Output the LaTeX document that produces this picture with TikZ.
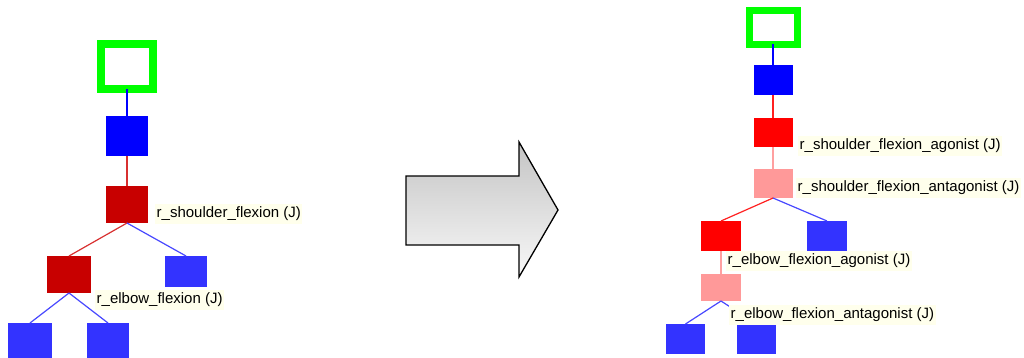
\documentclass[tikz,border=0pt]{standalone}
\usepackage{fontspec}
\setmainfont{Liberation Sans}
\definecolor{gbox}{HTML}{00FF00}
\definecolor{bdark}{HTML}{0000FF}
\definecolor{bleaf}{HTML}{3333FF}
\definecolor{rdark}{HTML}{C80000}
\definecolor{rbright}{HTML}{FF0000}
\definecolor{pinkb}{HTML}{FF9999}
\definecolor{labbg}{HTML}{FFFFEC}
\definecolor{lnblue}{HTML}{4848FF}
\definecolor{lnreddark}{HTML}{D83030}
\definecolor{lnred}{HTML}{FF2020}
\definecolor{lnpink}{HTML}{FFA0A0}
\definecolor{arrtop}{HTML}{C4C4C4}
\definecolor{arrbot}{HTML}{F8F8F8}
\tikzset{
  box/.style={rectangle, inner sep=0pt, outer sep=0pt, draw=none},
  rootbox/.style={box, draw=gbox, fill=white},
  lab/.style={rectangle, fill=labbg, inner xsep=1.5pt, inner ysep=0pt, minimum height=20pt,
              anchor=west, font=\fontsize{15}{17}\selectfont, text=black},
  conn/.style={line width=1.2pt},
}
\begin{document}
\begin{tikzpicture}[x=1pt,y=-1pt]
\useasboundingbox (0,0) rectangle (1024,358);
% ---------- left tree ----------
\node[rootbox, line width=8pt, minimum width=52pt, minimum height=45pt] (LG) at (127,66.5) {};
\node[box, fill=bdark, minimum width=42pt, minimum height=40pt] (LB) at (127,136) {};
\node[box, fill=rdark, minimum width=42pt, minimum height=37pt] (LR) at (127,204.5) {};
\node[box, fill=rdark, minimum width=44pt, minimum height=37pt] (LR2) at (69,274.5) {};
\node[box, fill=bleaf, minimum width=42pt, minimum height=31pt] (LB2) at (186,271.5) {};
\node[box, fill=bleaf, minimum width=44pt, minimum height=40pt] (LB3) at (30,343) {};
\node[box, fill=bleaf, minimum width=42pt, minimum height=40pt] (LB4) at (108,343) {};
\draw[conn, bdark] (LG.south) -- (LB.north);
\draw[conn, lnreddark] (LB.south) -- (LR.north);
\draw[conn, lnreddark] (LR.south) -- (LR2.north);
\draw[conn, lnblue] (LR.south) -- (LB2.north);
\draw[conn, lnblue] (LR2.south) -- (LB3.north);
\draw[conn, lnblue] (LR2.south) -- (LB4.north);
\node[lab] (L1) at (155,213.5) {r\_shoulder\_flexion (J)};
\node[lab] (L2) at (95,300) {r\_elbow\_flexion (J)};
% ---------- arrow ----------
\path[draw=black, line width=1.3pt, line join=miter, top color=arrtop, bottom color=arrbot]
  (406,176) -- (519,176) -- (519,142) -- (558,210) -- (519,277) -- (519,245) -- (406,245) -- cycle;
% ---------- right tree ----------
\node[rootbox, line width=7pt, minimum width=48pt, minimum height=34pt] (RG) at (773,27.5) {};
\node[box, fill=bdark, minimum width=39pt, minimum height=30pt] (RB) at (773,80) {};
\node[box, fill=rbright, minimum width=39pt, minimum height=29pt] (RR) at (773,132.5) {};
\node[box, fill=pinkb, minimum width=39pt, minimum height=29pt] (RP) at (773,183.5) {};
\node[box, fill=rbright, minimum width=40pt, minimum height=30pt] (RR2) at (721,236) {};
\node[box, fill=bleaf, minimum width=40pt, minimum height=30pt] (RB2) at (827,236) {};
\node[box, fill=pinkb, minimum width=40pt, minimum height=27pt] (RP2) at (721,287.5) {};
\node[box, fill=bleaf, minimum width=39pt, minimum height=30pt] (RB3) at (685.5,339) {};
\node[box, fill=bleaf, minimum width=39pt, minimum height=30pt] (RB4) at (756.5,339) {};
\draw[conn, bdark] (RG.south) -- (RB.north);
\draw[conn, lnred] (RB.south) -- (RR.north);
\draw[conn, lnpink] (RR.south) -- (RP.north);
\draw[conn, lnred] (RP.south) -- (RR2.north);
\draw[conn, lnblue] (RP.south) -- (RB2.north);
\draw[conn, lnpink] (RR2.south) -- (RP2.north);
\draw[conn, lnblue] (RP2.south) -- (RB3.north);
\draw[conn, lnblue] (RP2.south) -- (RB4.north);
\node[lab] (R1) at (798,146) {r\_shoulder\_flexion\_agonist (J)};
\node[lab] (R2) at (796,187.5) {r\_shoulder\_flexion\_antagonist (J)};
\node[lab] (R3) at (726,261) {r\_elbow\_flexion\_agonist (J)};
\node[lab] (R4) at (729,314.5) {r\_elbow\_flexion\_antagonist (J)};
\end{tikzpicture}
\end{document}
